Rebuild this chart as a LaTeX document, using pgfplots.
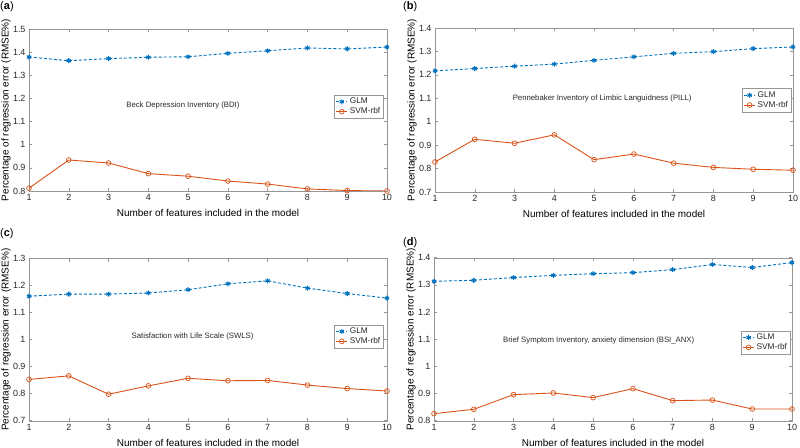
\documentclass[border=0pt]{standalone}
\usepackage{pgfplots}
\pgfplotsset{compat=1.18}
\usepackage{fontspec}
\setmainfont{Liberation Sans}
\definecolor{mblue}{RGB}{0,114,189}
\definecolor{morange}{RGB}{217,83,25}
\definecolor{axgray}{RGB}{150,150,150}
\definecolor{txt}{RGB}{40,40,40}
\tikzset{ttl/.style={font=\fontsize{7.8}{9}\selectfont, text=txt}}
\pgfplotsset{
  panel/.style={
    scale only axis, width=358bp, height=162bp,
    xmin=1, xmax=10, xtick={1,...,10},
    axis line style={axgray}, tick style={axgray, line width=0.5pt},
    major tick length=3bp,
    tick align=inside,
    /pgf/number format/assume math mode=true,
    tick label style={font=\fontsize{9}{10}\selectfont, text=txt},
    label style={font=\fontsize{9}{10}\selectfont, text=txt},
    xlabel={Number of features included in the model},
    ylabel={Percentage of regression error (RMSE\%)},
    every axis x label/.style={at={(axis description cs:0.5,-0.135)}, anchor=center},
    every axis y label/.style={at={(axis description cs:-0.064,0.5)}, rotate=90, anchor=center},
    legend style={font=\fontsize{8.3}{9}\selectfont, draw=axgray, inner sep=1pt, row sep=-1.5pt,
      cells={anchor=west, text=txt}},
    legend image code/.code={\draw[mark repeat=2,mark phase=2,#1] plot coordinates {(0cm,0cm) (0.2cm,0cm) (0.4cm,0cm)};},
  },
  glm/.style={color=mblue, dash pattern=on 3bp off 2bp, line width=0.9pt, mark=asterisk, mark size=2.5bp, mark options={solid, line width=1.1pt}},
  svm/.style={color=morange, solid, line width=0.9pt, mark=o, mark size=2.4bp, mark options={solid, line width=0.7pt}},
}
\begin{document}
\begin{tikzpicture}
\useasboundingbox (0,0) rectangle (800bp,448bp);
% (a)
\begin{axis}[panel, at={(29bp,257bp)}, anchor=south west,
  ymin=0.8, ymax=1.5, ytick={0.8,0.9,...,1.5},
  legend style={at={(rel axis cs:0.99,0.52)}, anchor=east}]
\addplot[glm] coordinates {(1,1.379) (2,1.363) (3,1.372) (4,1.378) (5,1.380) (6,1.395) (7,1.406) (8,1.418) (9,1.414) (10,1.422)};
\addplot[svm] coordinates {(1,0.812) (2,0.934) (3,0.921) (4,0.875) (5,0.864) (6,0.843) (7,0.830) (8,0.809) (9,0.802) (10,0.800)};
\legend{GLM, SVM-rbf}
\node[ttl] at (rel axis cs:0.43,0.525) {Beck Depression Inventory (BDI)};
\end{axis}
% (b)
\begin{axis}[panel, at={(435bp,256bp)}, anchor=south west, height=164bp,
  ymin=0.7, ymax=1.4, ytick={0.7,0.8,...,1.4},
  legend style={at={(rel axis cs:0.995,0.56)}, anchor=east}]
\addplot[glm] coordinates {(1,1.217) (2,1.227) (3,1.237) (4,1.246) (5,1.262) (6,1.277) (7,1.292) (8,1.299) (9,1.312) (10,1.319)};
\addplot[svm] coordinates {(1,0.828) (2,0.925) (3,0.908) (4,0.944) (5,0.838) (6,0.862) (7,0.823) (8,0.805) (9,0.797) (10,0.793)};
\legend{GLM, SVM-rbf}
\node[ttl] at (rel axis cs:0.467,0.57) {Pennebaker Inventory of Limbic Languidness (PILL)};
\end{axis}
% (c)
\begin{axis}[panel, at={(29bp,27.3bp)}, anchor=south west,
  ymin=0.7, ymax=1.3, ytick={0.7,0.8,...,1.3},
  legend style={at={(rel axis cs:0.99,0.52)}, anchor=east}]
\addplot[glm] coordinates {(1,1.161) (2,1.169) (3,1.169) (4,1.173) (5,1.185) (6,1.207) (7,1.218) (8,1.191) (9,1.171) (10,1.154)};
\addplot[svm] coordinates {(1,0.853) (2,0.866) (3,0.798) (4,0.829) (5,0.857) (6,0.848) (7,0.849) (8,0.832) (9,0.819) (10,0.810)};
\legend{GLM, SVM-rbf}
\node[ttl] at (rel axis cs:0.457,0.52) {Satisfaction with Life Scale (SWLS)};
\end{axis}
% (d)
\begin{axis}[panel, at={(434bp,27.3bp)}, anchor=south west, height=163bp,
  ymin=0.8, ymax=1.4, ytick={0.8,0.9,...,1.4},
  legend style={at={(rel axis cs:0.995,0.48)}, anchor=east}]
\addplot[glm] coordinates {(1,1.313) (2,1.317) (3,1.327) (4,1.335) (5,1.341) (6,1.345) (7,1.356) (8,1.375) (9,1.364) (10,1.382)};
\addplot[svm] coordinates {(1,0.826) (2,0.842) (3,0.896) (4,0.902) (5,0.885) (6,0.918) (7,0.874) (8,0.876) (9,0.843) (10,0.843)};
\legend{GLM, SVM-rbf}
\node[ttl] at (rel axis cs:0.46,0.49) {Brief Symptom Inventory, anxiety dimension (BSI\_ANX)};
\end{axis}
\node[anchor=west, font=\fontsize{11}{12}\selectfont, inner sep=0pt] at (0bp,441bp) {(\textbf{a})};
\node[anchor=west, font=\fontsize{11}{12}\selectfont, inner sep=0pt] at (403bp,441bp) {(\textbf{b})};
\node[anchor=west, font=\fontsize{11}{12}\selectfont, inner sep=0pt] at (0bp,214bp) {(\textbf{c})};
\node[anchor=west, font=\fontsize{11}{12}\selectfont, inner sep=0pt] at (403bp,205bp) {(\textbf{d})};
\end{tikzpicture}
\end{document}
